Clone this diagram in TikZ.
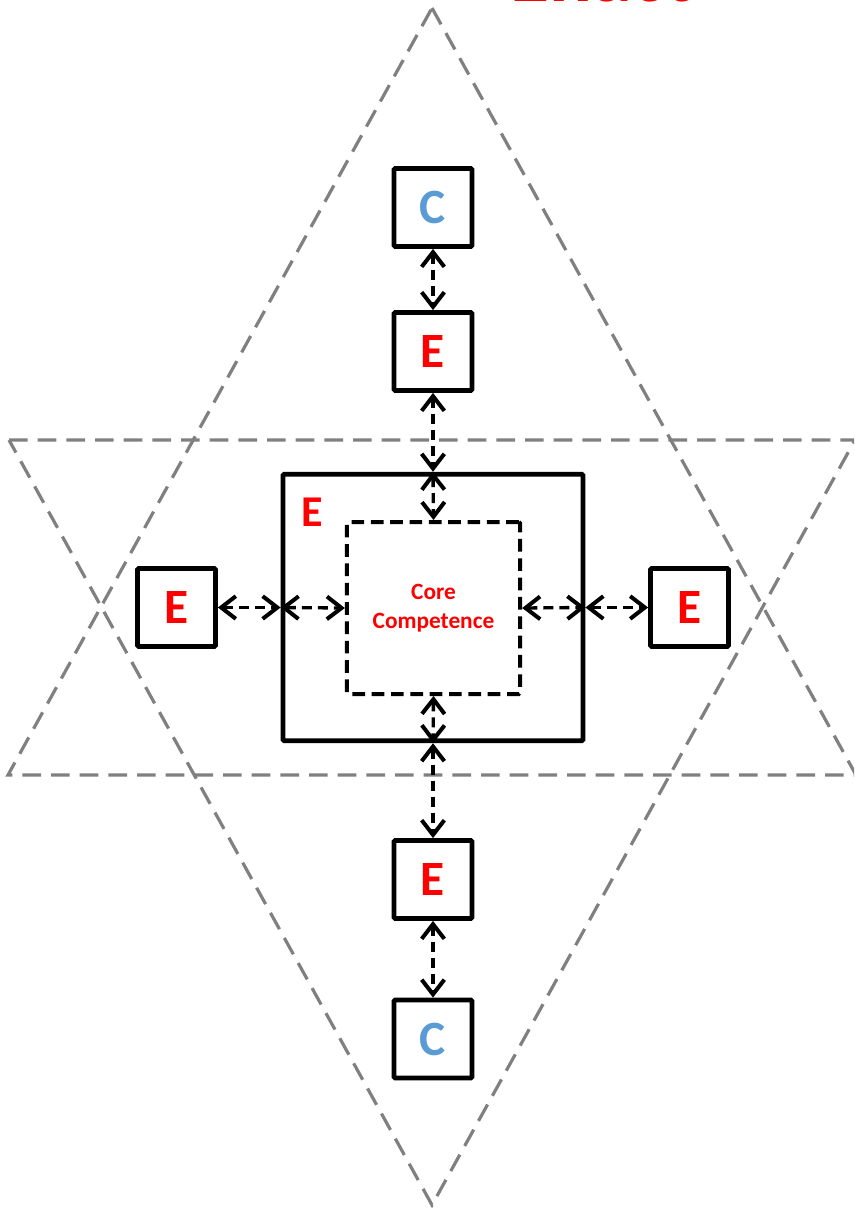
\documentclass[tikz,border=0pt]{standalone}
\usepackage{fontspec}
\setmainfont{Carlito}
\usetikzlibrary{arrows.meta}
\definecolor{ered}{RGB}{255,0,0}
\definecolor{cblue}{RGB}{91,155,213}
\definecolor{tgray}{RGB}{128,128,128}
\begin{document}
\begin{tikzpicture}[x=0.75pt,y=-0.75pt,
  tri/.style={draw=tgray, line width=2.4pt, dash pattern=on 14pt off 7.5pt},
  sbox/.style={draw, line width=3.6pt, minimum size=58.5pt, inner sep=0pt, rounded corners=1pt},
  bigletter/.style={font=\bfseries\fontsize{37}{37}\selectfont},
  biarrow/.style={line width=2.5pt, dash pattern=on 7.5pt off 4.5pt,
     {Straight Barb[length=11pt,width=17pt,line width=3pt]}-{Straight Barb[length=11pt,width=17pt,line width=3pt]}}]
\useasboundingbox (0,0) rectangle (854,1209);
\clip (0,0) rectangle (854,1209);
% title fragment (cut off at top)
\node[anchor=base west, text=ered, font=\bfseries\fontsize{60}{60}\selectfont, inner sep=0pt] (title) at (510,2) {Enact};
% dashed triangles
\draw[tri] (432,8) -- (856,775) -- (8,775) -- cycle;
\draw[tri] (9,440) -- (855,440) -- (432,1205) -- cycle;
% big box and core
\node[draw, fill=white, line width=3.6pt, minimum width=225pt, minimum height=200pt, inner sep=0pt, rounded corners=1pt] (big) at (433,607.5) {};
\node[draw, line width=3pt, dash pattern=on 9.5pt off 5pt, minimum width=130pt, minimum height=129pt, inner sep=0pt, rounded corners=1pt,
      text=ered, align=center, font=\bfseries\fontsize{17.5}{22}\selectfont] (core) at (433.5,608) {Core\\Competence};
\node[text=ered, font=\bfseries\fontsize{33}{33}\selectfont, inner sep=0pt] (bigE) at (312,512) {E};
% small boxes
\node[sbox, fill=white, text=cblue, bigletter] (ctop) at (433,207.5) {C};
\node[sbox, fill=white, text=ered, bigletter] (etop) at (433,351.5) {E};
\node[sbox, fill=white, text=ered, bigletter] (eleft) at (176.5,607.5) {E};
\node[sbox, fill=white, text=ered, bigletter] (eright) at (689.5,607.5) {E};
\node[sbox, fill=white, text=ered, bigletter] (ebot) at (433,879.5) {E};
\node[sbox, fill=white, text=cblue, bigletter] (cbot) at (433,1039) {C};
% connectors
\draw[biarrow] (ctop.south) -- (etop.north);
\draw[biarrow] (etop.south) -- (big.north);
\draw[biarrow] (big.north) -- (core.north);
\draw[biarrow] (core.south) -- (big.south);
\draw[biarrow] (big.south) -- (ebot.north);
\draw[biarrow] (ebot.south) -- (cbot.north);
\draw[biarrow] (eleft.east) -- (big.west);
\draw[biarrow] (big.west) -- (core.west);
\draw[biarrow] (core.east) -- (big.east);
\draw[biarrow] (big.east) -- (eright.west);
\end{tikzpicture}
\end{document}
